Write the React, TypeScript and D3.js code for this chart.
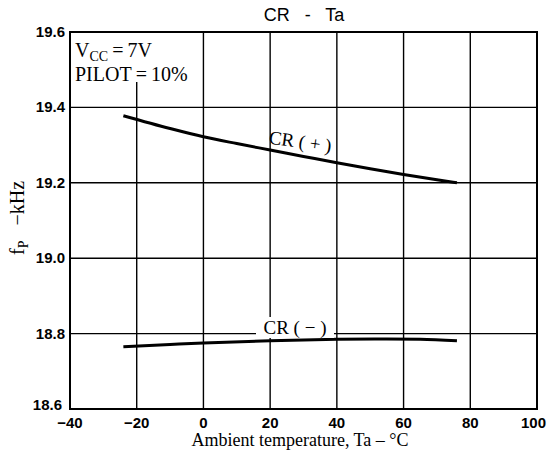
import React from "react";
import * as d3 from "d3";

const xTicks = [-40, -20, 0, 20, 40, 60, 80, 100];
const yTicks = [18.6, 18.8, 19.0, 19.2, 19.4, 19.6];
const tempsPlus = [-24, -10, 0, 10, 20, 30, 40, 50, 60, 70, 76];
const crPlus = [19.378, 19.344, 19.322, 19.304, 19.287, 19.27, 19.253, 19.237, 19.222, 19.208, 19.2];
const tempsMinus = [-24, -10, 0, 20, 40, 55, 65, 76];
const crMinus = [18.765, 18.771, 18.775, 18.781, 18.785, 18.786, 18.785, 18.781];

const W = 547, H = 458;
const L = 70, R = 537, T = 32, B = 409;

export default function App() {
  const x = d3.scaleLinear().domain([-40, 100]).range([L, R]);
  const y = d3.scaleLinear().domain([18.6, 19.6]).range([B, T]);
  const line = d3.line<[number, number]>().x(d => x(d[0])).y(d => y(d[1])).curve(d3.curveMonotoneX);
  const plus = tempsPlus.map((t, i) => [t, crPlus[i]] as [number, number]);
  const minus = tempsMinus.map((t, i) => [t, crMinus[i]] as [number, number]);
  const sans = "'Liberation Sans', Arial, sans-serif";
  const serif = "'Liberation Serif', 'Times New Roman', serif";
  const pre = { whiteSpace: "pre" as const };
  return (
    <svg width={W} height={H} style={{ position: "absolute", left: 0, top: 0, background: "#fff" }}>
      <rect x={0} y={0} width={W} height={H} fill="#fff" />
      {xTicks.slice(1, -1).map(t => (
        <line key={"gx" + t} x1={x(t)} x2={x(t)} y1={t === -20 ? 82 : T} y2={B} stroke="#000" strokeWidth={1.4} />
      ))}
      {yTicks.slice(1, -1).map(t => (
        <line key={"gy" + t} x1={L} x2={R} y1={y(t)} y2={y(t)} stroke="#000" strokeWidth={1.4} />
      ))}
      <rect x={L} y={T} width={R - L} height={B - T} fill="none" stroke="#000" strokeWidth={2} />
      <path d={line(plus) || ""} fill="none" stroke="#000" strokeWidth={3} />
      <path d={line(minus) || ""} fill="none" stroke="#000" strokeWidth={3} />
      <rect x={72} y={36} width={130} height={46} fill="#fff" />
      <text x={75} y={57} fontFamily={serif} fontSize={20} style={pre}>
        V<tspan fontSize={14} dy={4}>CC</tspan><tspan dy={-4}>{"\u2009=\u20097V"}</tspan>
      </text>
      <text x={75} y={81} fontFamily={serif} fontSize={20} style={pre}>{"PILOT\u2009=\u200910%"}</text>
      <text x={300} y={148} fontFamily={serif} fontSize={19} textAnchor="middle" transform="rotate(8 300 143)" style={pre}>CR ( + )</text>
      <rect x={256} y={317} width={78} height={21} fill="#fff" />
      <text x={295} y={334} fontFamily={serif} fontSize={19} textAnchor="middle" style={pre}>CR ( − )</text>
      {yTicks.map(t => (
        <text key={"yl" + t} x={t === 18.6 ? 62 : 65} y={y(t) + (t === 18.6 ? 1 : 5)} fontFamily={sans} fontWeight="bold" fontSize={15} textAnchor="end">{t.toFixed(1)}</text>
      ))}
      {xTicks.map(t => (
        <text key={"xl" + t} x={t === 100 ? 546 : x(t)} y={428} fontFamily={sans} fontWeight="bold" fontSize={15} textAnchor={t === 100 ? "end" : "middle"}>{t < 0 ? "−" + Math.abs(t) : t}</text>
      ))}
      <text x={304} y={21} fontFamily={sans} fontSize={18} textAnchor="middle" style={pre}>CR   -   Ta</text>
      <text x={300} y={446} fontFamily={serif} fontSize={18} textAnchor="middle">Ambient temperature, Ta – °C</text>
      <text transform="translate(24 218) rotate(-90)" fontFamily={serif} fontSize={20} textAnchor="middle" style={pre}>
        f<tspan fontSize={14} dy={4}>P</tspan><tspan dy={-4}>   −kHz</tspan>
      </text>
    </svg>
  );
}
